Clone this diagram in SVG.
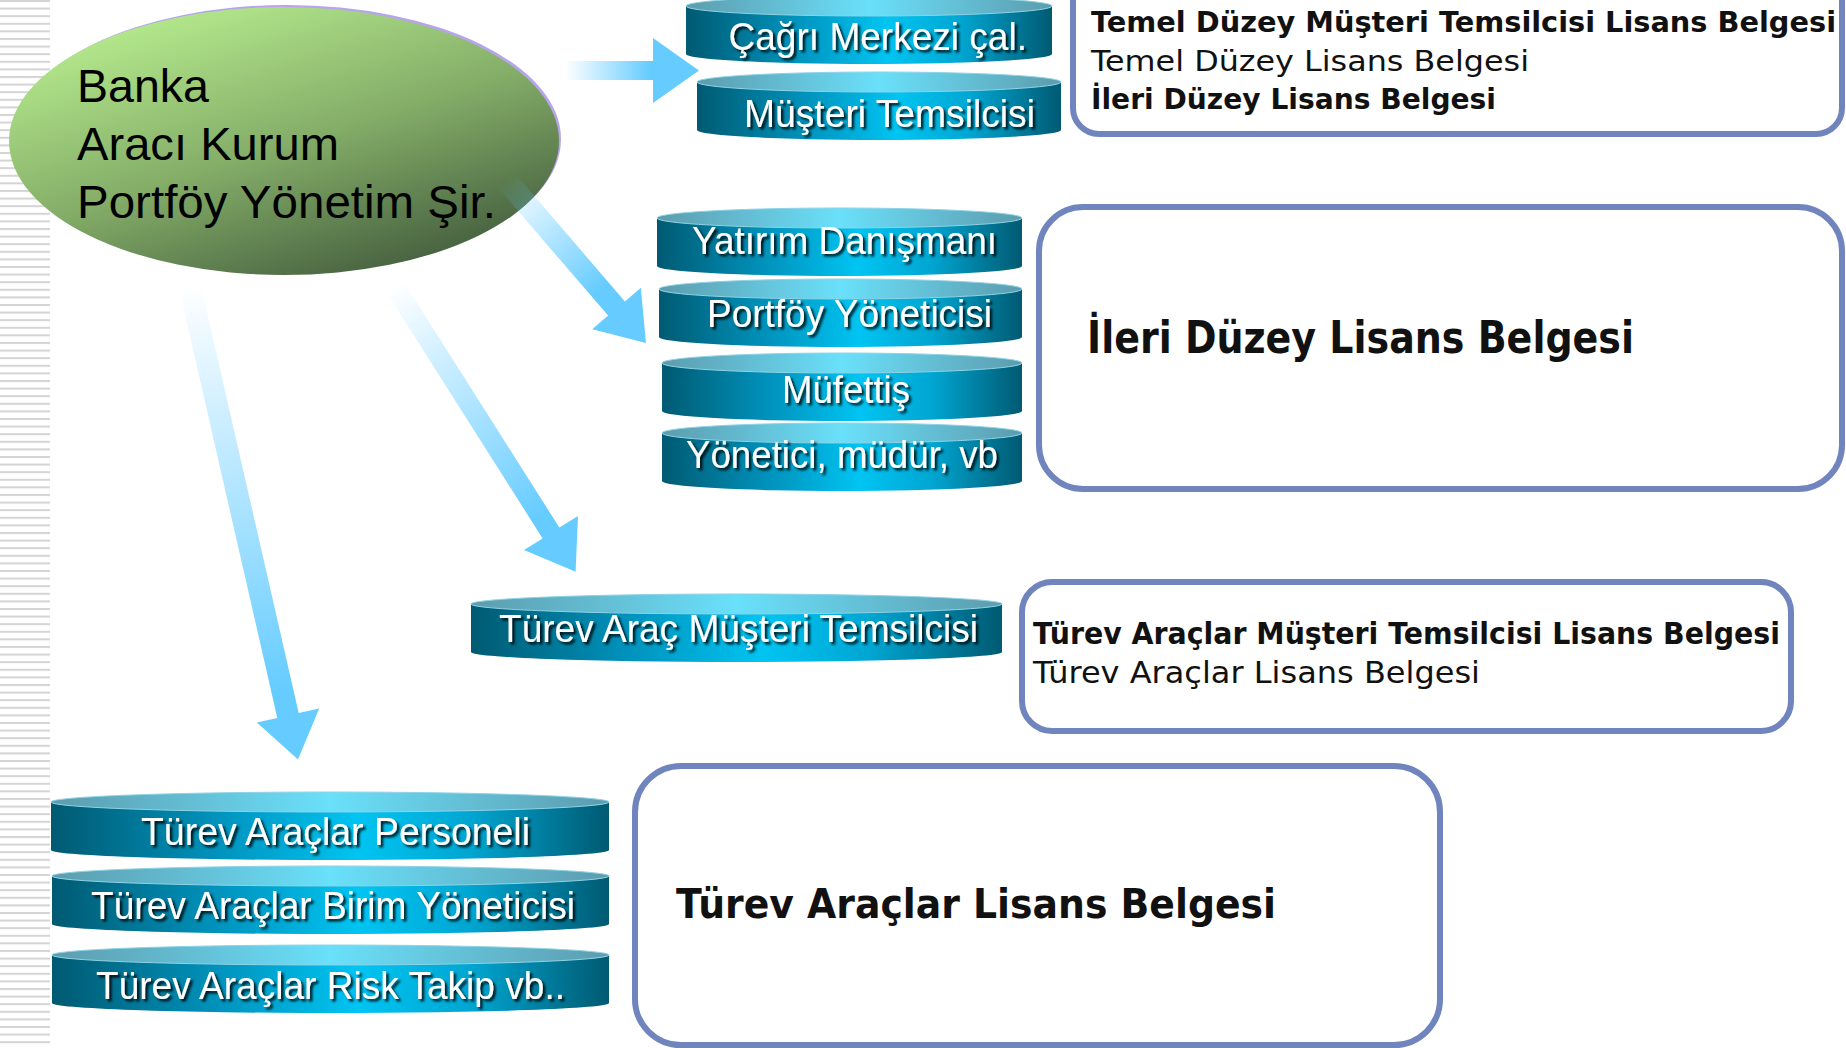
<svg xmlns="http://www.w3.org/2000/svg" width="1846" height="1048" viewBox="0 0 1846 1048">
<defs>
<style>
.cyl-top{fill:url(#topGrad);stroke:#8fd3e6;stroke-width:1}
.cyl-body{fill:url(#bodyGrad)}
.ct{font-family:"Liberation Sans",Arial,sans-serif;font-size:39px;fill:#ffffff;filter:url(#tshadow)}
.box{fill:#ffffff;stroke:#7084bd;stroke-width:6}
.bt{font-family:"DejaVu Sans",Tahoma,sans-serif;fill:#111111}
.b{font-weight:bold}
.et{font-family:"Liberation Sans",Arial,sans-serif;font-size:47px;fill:#000000}
</style>
<pattern id="stripes" x="0" y="0" width="50" height="7.6" patternUnits="userSpaceOnUse">
<rect x="0" y="0" width="50" height="2" fill="#d4d4d4"/>
</pattern>
<linearGradient id="topGrad" x1="0" y1="0" x2="1" y2="0">
<stop offset="0" stop-color="#5d9cae"/>
<stop offset="0.5" stop-color="#6ae0fa"/>
<stop offset="1" stop-color="#5d9cae"/>
</linearGradient>
<linearGradient id="bodyGrad" x1="0" y1="0" x2="1" y2="0">
<stop offset="0" stop-color="#005a72"/>
<stop offset="0.3" stop-color="#0093bd"/>
<stop offset="0.55" stop-color="#00c4f2"/>
<stop offset="0.75" stop-color="#00a6d2"/>
<stop offset="1" stop-color="#005a72"/>
</linearGradient>
<linearGradient id="greenGrad" x1="0.2" y1="0" x2="0.85" y2="1">
<stop offset="0" stop-color="#b9ef90"/>
<stop offset="0.5" stop-color="#84ad68"/>
<stop offset="1" stop-color="#3c5439"/>
</linearGradient>
<linearGradient id="a1" gradientUnits="userSpaceOnUse" x1="565" y1="0" x2="650" y2="0">
<stop offset="0" stop-color="#66ccff" stop-opacity="0"/>
<stop offset="1" stop-color="#66ccff" stop-opacity="1"/>
</linearGradient>
<linearGradient id="a2" gradientUnits="userSpaceOnUse" x1="506" y1="180" x2="600" y2="290">
<stop offset="0" stop-color="#66ccff" stop-opacity="0"/>
<stop offset="1" stop-color="#66ccff" stop-opacity="1"/>
</linearGradient>
<linearGradient id="a3" gradientUnits="userSpaceOnUse" x1="395" y1="287" x2="540" y2="515">
<stop offset="0" stop-color="#66ccff" stop-opacity="0"/>
<stop offset="1" stop-color="#66ccff" stop-opacity="1"/>
</linearGradient>
<linearGradient id="a4" gradientUnits="userSpaceOnUse" x1="190" y1="287" x2="280" y2="690">
<stop offset="0" stop-color="#66ccff" stop-opacity="0"/>
<stop offset="1" stop-color="#66ccff" stop-opacity="1"/>
</linearGradient>
<filter id="tshadow" x="-10%" y="-30%" width="130%" height="170%">
<feDropShadow dx="2.5" dy="2.5" stdDeviation="1.2" flood-color="#000000" flood-opacity="0.85"/>
</filter>
</defs>

<rect x="0" y="0" width="1846" height="1048" fill="#ffffff"/>
<rect id="stripes-bg" x="0" y="0" width="50" height="1048" fill="url(#stripes)"/>

<g id="source">
<ellipse cx="287" cy="139" rx="274" ry="134" fill="#b7a4ea"/>
<ellipse cx="284" cy="141" rx="275" ry="134" fill="url(#greenGrad)"/>
<text class="et" x="77" y="102" textLength="132" lengthAdjust="spacingAndGlyphs">Banka</text>
<text class="et" x="77" y="160" textLength="262" lengthAdjust="spacingAndGlyphs">Aracı Kurum</text>
<text class="et" x="77" y="218" textLength="419" lengthAdjust="spacingAndGlyphs">Portföy Yönetim Şir.</text>
</g>

<g id="connectors">
<polygon fill="url(#a1)" points="565,61 653,61 653,38 699,70.5 653,103 653,80 565,80"/>
<polygon fill="url(#a2)" points="497.6,187.2 514.4,172.8 624.9,301.4 640.8,287.7 646,343 592.2,329.3 608.1,315.6"/>
<polygon fill="url(#a3)" points="386.6,292.4 403.4,281.6 559.4,527.6 578,515.9 575.6,571.8 524,550.1 542.6,538.4"/>
<polygon fill="url(#a4)" points="179.3,289.5 200.7,284.5 298.7,713 319.2,708.4 298,759.4 256.8,722.6 277.3,718"/>
</g>

<g id="cyl-cagri">
<path class="cyl-body" d="M686 6 V54 A183 10 0 0 0 1052 54 V6 Z"/>
<ellipse class="cyl-top" cx="869" cy="6" rx="183" ry="10"/>
<text class="ct" x="728.5" y="50" textLength="298.5" lengthAdjust="spacingAndGlyphs">Çağrı Merkezi çal.</text>
</g>
<g id="cyl-musteri">
<path class="cyl-body" d="M697 82 V130 A182 10 0 0 0 1061 130 V82 Z"/>
<ellipse class="cyl-top" cx="879" cy="82" rx="182" ry="10"/>
<text class="ct" x="744" y="127" textLength="291" lengthAdjust="spacingAndGlyphs">Müşteri Temsilcisi</text>
</g>
<g id="cyl-yatirim">
<path class="cyl-body" d="M657 218 V266 A182.5 10 0 0 0 1022 266 V218 Z"/>
<ellipse class="cyl-top" cx="839.5" cy="218" rx="182.5" ry="10"/>
<text class="ct" x="692" y="254" textLength="305" lengthAdjust="spacingAndGlyphs">Yatırım Danışmanı</text>
</g>
<g id="cyl-portfoy">
<path class="cyl-body" d="M659 289 V337 A181.5 10 0 0 0 1022 337 V289 Z"/>
<ellipse class="cyl-top" cx="840.5" cy="289" rx="181.5" ry="10"/>
<text class="ct" x="707" y="327" textLength="285" lengthAdjust="spacingAndGlyphs">Portföy Yöneticisi</text>
</g>
<g id="cyl-mufettis">
<path class="cyl-body" d="M662 363 V411 A180 10 0 0 0 1022 411 V363 Z"/>
<ellipse class="cyl-top" cx="842" cy="363" rx="180" ry="10"/>
<text class="ct" x="782" y="403" textLength="128" lengthAdjust="spacingAndGlyphs">Müfettiş</text>
</g>
<g id="cyl-yonetici">
<path class="cyl-body" d="M662 433 V481 A180 10 0 0 0 1022 481 V433 Z"/>
<ellipse class="cyl-top" cx="842" cy="433" rx="180" ry="10"/>
<text class="ct" x="686" y="468" textLength="312" lengthAdjust="spacingAndGlyphs">Yönetici, müdür, vb</text>
</g>
<g id="cyl-turev-musteri">
<path class="cyl-body" d="M471 604 V652 A265.5 10 0 0 0 1002 652 V604 Z"/>
<ellipse class="cyl-top" cx="736.5" cy="604" rx="265.5" ry="10"/>
<text class="ct" x="499" y="642" textLength="479" lengthAdjust="spacingAndGlyphs">Türev Araç Müşteri Temsilcisi</text>
</g>
<g id="cyl-turev-personel">
<path class="cyl-body" d="M51 802 V850 A279 10 0 0 0 609 850 V802 Z"/>
<ellipse class="cyl-top" cx="330" cy="802" rx="279" ry="10"/>
<text class="ct" x="141" y="845" textLength="389" lengthAdjust="spacingAndGlyphs">Türev Araçlar Personeli</text>
</g>
<g id="cyl-turev-birim">
<path class="cyl-body" d="M52 876 V924 A278.5 10 0 0 0 609 924 V876 Z"/>
<ellipse class="cyl-top" cx="330.5" cy="876" rx="278.5" ry="10"/>
<text class="ct" x="91" y="919" textLength="484" lengthAdjust="spacingAndGlyphs">Türev Araçlar Birim Yöneticisi</text>
</g>
<g id="cyl-turev-risk">
<path class="cyl-body" d="M52 955 V1003 A278.5 10 0 0 0 609 1003 V955 Z"/>
<ellipse class="cyl-top" cx="330.5" cy="955" rx="278.5" ry="10"/>
<text class="ct" x="96" y="999" textLength="469" lengthAdjust="spacingAndGlyphs">Türev Araçlar Risk Takip vb..</text>
</g>

<g id="box-temel">
<rect class="box" x="1073" y="-40" width="769" height="174" rx="26" ry="26"/>
<text class="bt b" x="1091" y="32" font-size="29" textLength="745" lengthAdjust="spacingAndGlyphs">Temel Düzey Müşteri Temsilcisi Lisans Belgesi</text>
<text class="bt" x="1091" y="71" font-size="29" textLength="438" lengthAdjust="spacingAndGlyphs">Temel Düzey Lisans Belgesi</text>
<text class="bt b" x="1091" y="109" font-size="29" textLength="405" lengthAdjust="spacingAndGlyphs">İleri Düzey Lisans Belgesi</text>
</g>
<g id="box-ileri">
<rect class="box" x="1039" y="207" width="803" height="282" rx="44" ry="44"/>
<text class="bt b" x="1087" y="353" font-size="44" textLength="547" lengthAdjust="spacingAndGlyphs">İleri Düzey Lisans Belgesi</text>
</g>
<g id="box-turev-musteri">
<rect class="box" x="1022" y="582" width="769" height="149" rx="30" ry="30"/>
<text class="bt b" x="1033" y="644" font-size="30" textLength="747" lengthAdjust="spacingAndGlyphs">Türev Araçlar Müşteri Temsilcisi Lisans Belgesi</text>
<text class="bt" x="1033" y="683" font-size="30" textLength="447" lengthAdjust="spacingAndGlyphs">Türev Araçlar Lisans Belgesi</text>
</g>
<g id="box-turev">
<rect class="box" x="635" y="766" width="805" height="279" rx="46" ry="46"/>
<text class="bt b" x="676" y="918" font-size="40" textLength="600" lengthAdjust="spacingAndGlyphs">Türev Araçlar Lisans Belgesi</text>
</g>
</svg>
